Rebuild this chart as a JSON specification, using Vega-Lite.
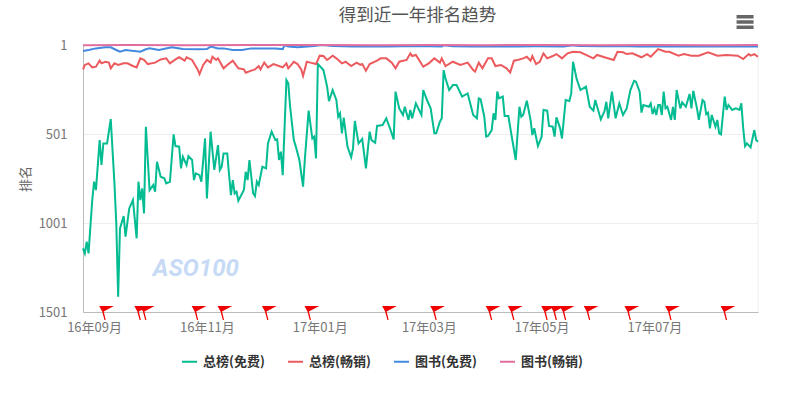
{"$schema":"https://vega.github.io/schema/vega-lite/v6.json","width":675,"height":267,"autosize":{"type":"none"},"padding":{"left":83,"top":45,"right":40,"bottom":88},"background":"white","view":{"stroke":null},"config":{"font":"Noto Sans CJK SC"},"title":{"text":"得到近一年排名趋势","fontSize":17.5,"fontWeight":"normal","color":"#555555","font":"Noto Sans CJK SC","anchor":"middle","dx":-3,"offset":-9},"layer":[{"data":{"values":[{"date":"2017-08-26"}]},"mark":{"type":"rule","stroke":"#eeeeee","strokeWidth":1},"encoding":{"x":{"field":"date","type":"temporal"}}},{"data":{"values":[{"date":"2016-08-26","series":"总榜(免费)","rank":1144},{"date":"2016-08-27","series":"总榜(免费)","rank":1172},{"date":"2016-08-28","series":"总榜(免费)","rank":1106},{"date":"2016-08-29","series":"总榜(免费)","rank":1172},{"date":"2016-08-31","series":"总榜(免费)","rank":872},{"date":"2016-09-01","series":"总榜(免费)","rank":769},{"date":"2016-09-02","series":"总榜(免费)","rank":816},{"date":"2016-09-04","series":"总榜(免费)","rank":535},{"date":"2016-09-05","series":"总榜(免费)","rank":675},{"date":"2016-09-06","series":"总榜(免费)","rank":554},{"date":"2016-09-08","series":"总榜(免费)","rank":554},{"date":"2016-09-10","series":"总榜(免费)","rank":417},{"date":"2016-09-12","series":"总榜(免费)","rank":778},{"date":"2016-09-13","series":"总榜(免费)","rank":1003},{"date":"2016-09-14","series":"总榜(免费)","rank":1415},{"date":"2016-09-15","series":"总榜(免费)","rank":1031},{"date":"2016-09-17","series":"总榜(免费)","rank":962},{"date":"2016-09-18","series":"总榜(免费)","rank":1078},{"date":"2016-09-20","series":"总榜(免费)","rank":919},{"date":"2016-09-22","series":"总榜(免费)","rank":872},{"date":"2016-09-24","series":"总榜(免费)","rank":1087},{"date":"2016-09-25","series":"总榜(免费)","rank":769},{"date":"2016-09-26","series":"总榜(免费)","rank":872},{"date":"2016-09-27","series":"总榜(免费)","rank":807},{"date":"2016-09-28","series":"总榜(免费)","rank":947},{"date":"2016-09-29","series":"总榜(免费)","rank":460},{"date":"2016-10-01","series":"总榜(免费)","rank":816},{"date":"2016-10-03","series":"总榜(免费)","rank":788},{"date":"2016-10-04","series":"总榜(免费)","rank":825},{"date":"2016-10-05","series":"总榜(免费)","rank":657},{"date":"2016-10-07","series":"总榜(免费)","rank":741},{"date":"2016-10-09","series":"总榜(免费)","rank":750},{"date":"2016-10-10","series":"总榜(免费)","rank":778},{"date":"2016-10-12","series":"总榜(免费)","rank":769},{"date":"2016-10-14","series":"总榜(免费)","rank":503},{"date":"2016-10-15","series":"总榜(免费)","rank":569},{"date":"2016-10-17","series":"总榜(免费)","rank":572},{"date":"2016-10-18","series":"总榜(免费)","rank":694},{"date":"2016-10-19","series":"总榜(免费)","rank":629},{"date":"2016-10-21","series":"总榜(免费)","rank":675},{"date":"2016-10-22","series":"总榜(免费)","rank":625},{"date":"2016-10-24","series":"总榜(免费)","rank":647},{"date":"2016-10-25","series":"总榜(免费)","rank":760},{"date":"2016-10-26","series":"总榜(免费)","rank":722},{"date":"2016-10-28","series":"总榜(免费)","rank":732},{"date":"2016-10-29","series":"总榜(免费)","rank":769},{"date":"2016-10-31","series":"总榜(免费)","rank":526},{"date":"2016-11-01","series":"总榜(免费)","rank":863},{"date":"2016-11-03","series":"总榜(免费)","rank":488},{"date":"2016-11-05","series":"总榜(免费)","rank":703},{"date":"2016-11-07","series":"总榜(免费)","rank":563},{"date":"2016-11-08","series":"总榜(免费)","rank":703},{"date":"2016-11-09","series":"总榜(免费)","rank":685},{"date":"2016-11-10","series":"总榜(免费)","rank":610},{"date":"2016-11-12","series":"总榜(免费)","rank":610},{"date":"2016-11-13","series":"总榜(免费)","rank":732},{"date":"2016-11-14","series":"总榜(免费)","rank":844},{"date":"2016-11-15","series":"总榜(免费)","rank":760},{"date":"2016-11-16","series":"总榜(免费)","rank":835},{"date":"2016-11-17","series":"总榜(免费)","rank":825},{"date":"2016-11-18","series":"总榜(免费)","rank":876},{"date":"2016-11-21","series":"总榜(免费)","rank":816},{"date":"2016-11-22","series":"总榜(免费)","rank":713},{"date":"2016-11-23","series":"总榜(免费)","rank":760},{"date":"2016-11-24","series":"总榜(免费)","rank":647},{"date":"2016-11-26","series":"总榜(免费)","rank":835},{"date":"2016-11-27","series":"总榜(免费)","rank":850},{"date":"2016-11-28","series":"总榜(免费)","rank":769},{"date":"2016-11-29","series":"总榜(免费)","rank":788},{"date":"2016-12-01","series":"总榜(免费)","rank":685},{"date":"2016-12-03","series":"总榜(免费)","rank":694},{"date":"2016-12-04","series":"总榜(免费)","rank":554},{"date":"2016-12-06","series":"总榜(免费)","rank":488},{"date":"2016-12-08","series":"总榜(免费)","rank":535},{"date":"2016-12-09","series":"总榜(免费)","rank":531},{"date":"2016-12-10","series":"总榜(免费)","rank":647},{"date":"2016-12-11","series":"总榜(免费)","rank":600},{"date":"2016-12-12","series":"总榜(免费)","rank":732},{"date":"2016-12-14","series":"总榜(免费)","rank":198},{"date":"2016-12-15","series":"总榜(免费)","rank":216},{"date":"2016-12-16","series":"总榜(免费)","rank":348},{"date":"2016-12-18","series":"总榜(免费)","rank":535},{"date":"2016-12-19","series":"总榜(免费)","rank":569},{"date":"2016-12-21","series":"总榜(免费)","rank":647},{"date":"2016-12-23","series":"总榜(免费)","rank":797},{"date":"2016-12-24","series":"总榜(免费)","rank":638},{"date":"2016-12-26","series":"总榜(免费)","rank":370},{"date":"2016-12-28","series":"总榜(免费)","rank":526},{"date":"2016-12-29","series":"总榜(免费)","rank":516},{"date":"2016-12-30","series":"总榜(免费)","rank":638},{"date":"2016-12-31","series":"总榜(免费)","rank":108},{"date":"2017-01-03","series":"总榜(免费)","rank":142},{"date":"2017-01-05","series":"总榜(免费)","rank":235},{"date":"2017-01-06","series":"总榜(免费)","rank":316},{"date":"2017-01-08","series":"总榜(免费)","rank":254},{"date":"2017-01-10","series":"总榜(免费)","rank":310},{"date":"2017-01-11","series":"总榜(免费)","rank":404},{"date":"2017-01-12","series":"总榜(免费)","rank":385},{"date":"2017-01-13","series":"总榜(免费)","rank":497},{"date":"2017-01-14","series":"总榜(免费)","rank":409},{"date":"2017-01-16","series":"总榜(免费)","rank":572},{"date":"2017-01-18","series":"总榜(免费)","rank":632},{"date":"2017-01-19","series":"总榜(免费)","rank":582},{"date":"2017-01-20","series":"总榜(免费)","rank":428},{"date":"2017-01-22","series":"总榜(免费)","rank":554},{"date":"2017-01-24","series":"总榜(免费)","rank":529},{"date":"2017-01-26","series":"总榜(免费)","rank":694},{"date":"2017-01-28","series":"总榜(免费)","rank":488},{"date":"2017-01-29","series":"总榜(免费)","rank":535},{"date":"2017-01-31","series":"总榜(免费)","rank":550},{"date":"2017-02-01","series":"总榜(免费)","rank":456},{"date":"2017-02-04","series":"总榜(免费)","rank":451},{"date":"2017-02-06","series":"总榜(免费)","rank":413},{"date":"2017-02-08","series":"总榜(免费)","rank":469},{"date":"2017-02-10","series":"总榜(免费)","rank":531},{"date":"2017-02-11","series":"总榜(免费)","rank":263},{"date":"2017-02-13","series":"总榜(免费)","rank":357},{"date":"2017-02-15","series":"总榜(免费)","rank":394},{"date":"2017-02-16","series":"总榜(免费)","rank":348},{"date":"2017-02-18","series":"总榜(免费)","rank":422},{"date":"2017-02-19","series":"总榜(免费)","rank":366},{"date":"2017-02-20","series":"总榜(免费)","rank":413},{"date":"2017-02-22","series":"总榜(免费)","rank":329},{"date":"2017-02-25","series":"总榜(免费)","rank":394},{"date":"2017-02-26","series":"总榜(免费)","rank":254},{"date":"2017-02-28","series":"总榜(免费)","rank":310},{"date":"2017-03-02","series":"总榜(免费)","rank":357},{"date":"2017-03-04","series":"总榜(免费)","rank":497},{"date":"2017-03-05","series":"总榜(免费)","rank":497},{"date":"2017-03-07","series":"总榜(免费)","rank":432},{"date":"2017-03-08","series":"总榜(免费)","rank":413},{"date":"2017-03-09","series":"总榜(免费)","rank":142},{"date":"2017-03-10","series":"总榜(免费)","rank":188},{"date":"2017-03-12","series":"总榜(免费)","rank":254},{"date":"2017-03-14","series":"总榜(免费)","rank":226},{"date":"2017-03-16","series":"总榜(免费)","rank":226},{"date":"2017-03-19","series":"总榜(免费)","rank":291},{"date":"2017-03-22","series":"总榜(免费)","rank":273},{"date":"2017-03-25","series":"总榜(免费)","rank":394},{"date":"2017-03-27","series":"总榜(免费)","rank":413},{"date":"2017-03-28","series":"总榜(免费)","rank":301},{"date":"2017-03-29","series":"总榜(免费)","rank":306},{"date":"2017-03-31","series":"总榜(免费)","rank":404},{"date":"2017-04-01","series":"总榜(免费)","rank":516},{"date":"2017-04-02","series":"总榜(免费)","rank":512},{"date":"2017-04-04","series":"总榜(免费)","rank":479},{"date":"2017-04-05","series":"总榜(免费)","rank":385},{"date":"2017-04-06","series":"总榜(免费)","rank":422},{"date":"2017-04-07","series":"总榜(免费)","rank":263},{"date":"2017-04-08","series":"总榜(免费)","rank":301},{"date":"2017-04-10","series":"总榜(免费)","rank":291},{"date":"2017-04-11","series":"总榜(免费)","rank":400},{"date":"2017-04-13","series":"总榜(免费)","rank":400},{"date":"2017-04-15","series":"总榜(免费)","rank":526},{"date":"2017-04-17","series":"总榜(免费)","rank":647},{"date":"2017-04-19","series":"总榜(免费)","rank":348},{"date":"2017-04-20","series":"总榜(免费)","rank":404},{"date":"2017-04-21","series":"总榜(免费)","rank":394},{"date":"2017-04-23","series":"总榜(免费)","rank":314},{"date":"2017-04-25","series":"总榜(免费)","rank":422},{"date":"2017-04-26","series":"总榜(免费)","rank":507},{"date":"2017-04-27","series":"总榜(免费)","rank":469},{"date":"2017-04-29","series":"总榜(免费)","rank":569},{"date":"2017-05-01","series":"总榜(免费)","rank":516},{"date":"2017-05-02","series":"总榜(免费)","rank":366},{"date":"2017-05-04","series":"总榜(免费)","rank":370},{"date":"2017-05-05","series":"总榜(免费)","rank":456},{"date":"2017-05-07","series":"总榜(免费)","rank":460},{"date":"2017-05-08","series":"总榜(免费)","rank":516},{"date":"2017-05-09","series":"总榜(免费)","rank":408},{"date":"2017-05-11","series":"总榜(免费)","rank":469},{"date":"2017-05-12","series":"总榜(免费)","rank":526},{"date":"2017-05-14","series":"总榜(免费)","rank":310},{"date":"2017-05-16","series":"总榜(免费)","rank":316},{"date":"2017-05-17","series":"总榜(免费)","rank":273},{"date":"2017-05-18","series":"总榜(免费)","rank":95},{"date":"2017-05-20","series":"总榜(免费)","rank":194},{"date":"2017-05-22","series":"总榜(免费)","rank":254},{"date":"2017-05-25","series":"总榜(免费)","rank":235},{"date":"2017-05-27","series":"总榜(免费)","rank":348},{"date":"2017-05-29","series":"总榜(免费)","rank":370},{"date":"2017-05-30","series":"总榜(免费)","rank":310},{"date":"2017-06-02","series":"总榜(免费)","rank":419},{"date":"2017-06-04","series":"总榜(免费)","rank":372},{"date":"2017-06-05","series":"总榜(免费)","rank":320},{"date":"2017-06-06","series":"总榜(免费)","rank":413},{"date":"2017-06-08","series":"总榜(免费)","rank":263},{"date":"2017-06-10","series":"总榜(免费)","rank":413},{"date":"2017-06-12","series":"总榜(免费)","rank":329},{"date":"2017-06-14","series":"总榜(免费)","rank":394},{"date":"2017-06-16","series":"总榜(免费)","rank":357},{"date":"2017-06-18","series":"总榜(免费)","rank":254},{"date":"2017-06-20","series":"总榜(免费)","rank":202},{"date":"2017-06-21","series":"总榜(免费)","rank":207},{"date":"2017-06-23","series":"总榜(免费)","rank":263},{"date":"2017-06-24","series":"总榜(免费)","rank":381},{"date":"2017-06-25","series":"总榜(免费)","rank":338},{"date":"2017-06-28","series":"总榜(免费)","rank":348},{"date":"2017-06-29","series":"总榜(免费)","rank":329},{"date":"2017-06-30","series":"总榜(免费)","rank":389},{"date":"2017-07-01","series":"总榜(免费)","rank":357},{"date":"2017-07-02","series":"总榜(免费)","rank":394},{"date":"2017-07-03","series":"总榜(免费)","rank":338},{"date":"2017-07-04","series":"总榜(免费)","rank":338},{"date":"2017-07-05","series":"总榜(免费)","rank":394},{"date":"2017-07-06","series":"总榜(免费)","rank":263},{"date":"2017-07-07","series":"总榜(免费)","rank":357},{"date":"2017-07-08","series":"总榜(免费)","rank":348},{"date":"2017-07-10","series":"总榜(免费)","rank":422},{"date":"2017-07-11","series":"总榜(免费)","rank":348},{"date":"2017-07-12","series":"总榜(免费)","rank":422},{"date":"2017-07-13","series":"总榜(免费)","rank":254},{"date":"2017-07-15","series":"总榜(免费)","rank":357},{"date":"2017-07-16","series":"总榜(免费)","rank":323},{"date":"2017-07-18","series":"总榜(免费)","rank":348},{"date":"2017-07-20","series":"总榜(免费)","rank":276},{"date":"2017-07-21","series":"总榜(免费)","rank":357},{"date":"2017-07-22","series":"总榜(免费)","rank":258},{"date":"2017-07-24","series":"总榜(免费)","rank":357},{"date":"2017-07-25","series":"总榜(免费)","rank":422},{"date":"2017-07-27","series":"总榜(免费)","rank":310},{"date":"2017-07-28","series":"总榜(免费)","rank":320},{"date":"2017-07-29","series":"总榜(免费)","rank":389},{"date":"2017-07-30","series":"总榜(免费)","rank":381},{"date":"2017-07-31","series":"总榜(免费)","rank":469},{"date":"2017-08-01","series":"总榜(免费)","rank":394},{"date":"2017-08-03","series":"总榜(免费)","rank":460},{"date":"2017-08-04","series":"总榜(免费)","rank":422},{"date":"2017-08-05","series":"总榜(免费)","rank":497},{"date":"2017-08-06","series":"总榜(免费)","rank":503},{"date":"2017-08-08","series":"总榜(免费)","rank":291},{"date":"2017-08-09","series":"总榜(免费)","rank":366},{"date":"2017-08-10","series":"总榜(免费)","rank":338},{"date":"2017-08-12","series":"总榜(免费)","rank":366},{"date":"2017-08-14","series":"总榜(免费)","rank":357},{"date":"2017-08-16","series":"总榜(免费)","rank":366},{"date":"2017-08-17","series":"总榜(免费)","rank":329},{"date":"2017-08-18","series":"总榜(免费)","rank":469},{"date":"2017-08-19","series":"总榜(免费)","rank":569},{"date":"2017-08-20","series":"总榜(免费)","rank":554},{"date":"2017-08-22","series":"总榜(免费)","rank":576},{"date":"2017-08-24","series":"总榜(免费)","rank":479},{"date":"2017-08-25","series":"总榜(免费)","rank":535},{"date":"2017-08-26","series":"总榜(免费)","rank":544},{"date":"2016-08-26","series":"总榜(畅销)","rank":138},{"date":"2016-08-27","series":"总榜(畅销)","rank":113},{"date":"2016-08-29","series":"总榜(畅销)","rank":104},{"date":"2016-08-31","series":"总榜(畅销)","rank":127},{"date":"2016-09-02","series":"总榜(畅销)","rank":123},{"date":"2016-09-04","series":"总榜(畅销)","rank":89},{"date":"2016-09-05","series":"总榜(畅销)","rank":104},{"date":"2016-09-07","series":"总榜(畅销)","rank":95},{"date":"2016-09-09","series":"总榜(畅销)","rank":100},{"date":"2016-09-10","series":"总榜(畅销)","rank":132},{"date":"2016-09-12","series":"总榜(畅销)","rank":104},{"date":"2016-09-14","series":"总榜(畅销)","rank":113},{"date":"2016-09-17","series":"总榜(畅销)","rank":104},{"date":"2016-09-19","series":"总榜(畅销)","rank":104},{"date":"2016-09-22","series":"总榜(畅销)","rank":119},{"date":"2016-09-24","series":"总榜(畅销)","rank":127},{"date":"2016-09-26","series":"总榜(畅销)","rank":76},{"date":"2016-09-28","series":"总榜(畅销)","rank":85},{"date":"2016-09-30","series":"总榜(畅销)","rank":108},{"date":"2016-10-04","series":"总榜(畅销)","rank":100},{"date":"2016-10-07","series":"总榜(畅销)","rank":82},{"date":"2016-10-10","series":"总榜(畅销)","rank":76},{"date":"2016-10-12","series":"总榜(畅销)","rank":104},{"date":"2016-10-15","series":"总榜(畅销)","rank":82},{"date":"2016-10-17","series":"总榜(畅销)","rank":70},{"date":"2016-10-20","series":"总榜(畅销)","rank":89},{"date":"2016-10-21","series":"总榜(畅销)","rank":70},{"date":"2016-10-24","series":"总榜(畅销)","rank":85},{"date":"2016-10-25","series":"总榜(畅销)","rank":104},{"date":"2016-10-27","series":"总榜(畅销)","rank":138},{"date":"2016-10-28","series":"总榜(畅销)","rank":164},{"date":"2016-10-30","series":"总榜(畅销)","rank":113},{"date":"2016-11-01","series":"总榜(畅销)","rank":85},{"date":"2016-11-03","series":"总榜(畅销)","rank":100},{"date":"2016-11-04","series":"总榜(畅销)","rank":67},{"date":"2016-11-06","series":"总榜(畅销)","rank":85},{"date":"2016-11-07","series":"总榜(畅销)","rank":76},{"date":"2016-11-08","series":"总榜(畅销)","rank":95},{"date":"2016-11-10","series":"总榜(畅销)","rank":132},{"date":"2016-11-12","series":"总榜(畅销)","rank":113},{"date":"2016-11-15","series":"总榜(畅销)","rank":89},{"date":"2016-11-18","series":"总榜(畅销)","rank":132},{"date":"2016-11-21","series":"总榜(畅销)","rank":138},{"date":"2016-11-22","series":"总榜(畅销)","rank":157},{"date":"2016-11-25","series":"总榜(畅销)","rank":145},{"date":"2016-11-27","series":"总榜(畅销)","rank":138},{"date":"2016-11-29","series":"总榜(畅销)","rank":119},{"date":"2016-11-30","series":"总榜(畅销)","rank":138},{"date":"2016-12-02","series":"总榜(畅销)","rank":100},{"date":"2016-12-04","series":"总榜(畅销)","rank":127},{"date":"2016-12-07","series":"总榜(畅销)","rank":108},{"date":"2016-12-10","series":"总榜(畅销)","rank":119},{"date":"2016-12-12","series":"总榜(畅销)","rank":127},{"date":"2016-12-14","series":"总榜(畅销)","rank":104},{"date":"2016-12-15","series":"总榜(畅销)","rank":132},{"date":"2016-12-18","series":"总榜(畅销)","rank":95},{"date":"2016-12-20","series":"总榜(畅销)","rank":108},{"date":"2016-12-22","series":"总榜(畅销)","rank":138},{"date":"2016-12-23","series":"总榜(畅销)","rank":175},{"date":"2016-12-25","series":"总榜(畅销)","rank":95},{"date":"2016-12-27","series":"总榜(畅销)","rank":100},{"date":"2016-12-30","series":"总榜(畅销)","rank":108},{"date":"2017-01-01","series":"总榜(畅销)","rank":61},{"date":"2017-01-03","series":"总榜(畅销)","rank":63},{"date":"2017-01-05","series":"总榜(畅销)","rank":85},{"date":"2017-01-08","series":"总榜(畅销)","rank":61},{"date":"2017-01-10","series":"总榜(畅销)","rank":76},{"date":"2017-01-13","series":"总榜(畅销)","rank":104},{"date":"2017-01-15","series":"总榜(畅销)","rank":95},{"date":"2017-01-18","series":"总榜(畅销)","rank":119},{"date":"2017-01-19","series":"总榜(畅销)","rank":113},{"date":"2017-01-21","series":"总榜(畅销)","rank":100},{"date":"2017-01-23","series":"总榜(畅销)","rank":113},{"date":"2017-01-24","series":"总榜(畅销)","rank":108},{"date":"2017-01-26","series":"总榜(畅销)","rank":145},{"date":"2017-01-28","series":"总榜(畅销)","rank":108},{"date":"2017-02-01","series":"总榜(畅销)","rank":89},{"date":"2017-02-03","series":"总榜(畅销)","rank":76},{"date":"2017-02-06","series":"总榜(畅销)","rank":76},{"date":"2017-02-09","series":"总榜(畅销)","rank":100},{"date":"2017-02-11","series":"总榜(畅销)","rank":132},{"date":"2017-02-13","series":"总榜(畅销)","rank":95},{"date":"2017-02-17","series":"总榜(畅销)","rank":85},{"date":"2017-02-19","series":"总榜(畅销)","rank":48},{"date":"2017-02-20","series":"总榜(畅销)","rank":63},{"date":"2017-02-22","series":"总榜(畅销)","rank":57},{"date":"2017-02-26","series":"总榜(畅销)","rank":123},{"date":"2017-03-01","series":"总榜(畅销)","rank":104},{"date":"2017-03-04","series":"总榜(畅销)","rank":76},{"date":"2017-03-07","series":"总榜(畅销)","rank":100},{"date":"2017-03-08","series":"总榜(畅销)","rank":76},{"date":"2017-03-10","series":"总榜(畅销)","rank":119},{"date":"2017-03-14","series":"总榜(畅销)","rank":95},{"date":"2017-03-18","series":"总榜(畅销)","rank":113},{"date":"2017-03-22","series":"总榜(畅销)","rank":100},{"date":"2017-03-25","series":"总榜(畅销)","rank":142},{"date":"2017-03-26","series":"总榜(畅销)","rank":151},{"date":"2017-03-28","series":"总榜(畅销)","rank":100},{"date":"2017-03-30","series":"总榜(畅销)","rank":132},{"date":"2017-04-02","series":"总榜(畅销)","rank":76},{"date":"2017-04-04","series":"总榜(畅销)","rank":76},{"date":"2017-04-06","series":"总榜(畅销)","rank":119},{"date":"2017-04-09","series":"总榜(畅销)","rank":113},{"date":"2017-04-12","series":"总榜(畅销)","rank":132},{"date":"2017-04-14","series":"总榜(畅销)","rank":155},{"date":"2017-04-16","series":"总榜(畅销)","rank":89},{"date":"2017-04-18","series":"总榜(畅销)","rank":85},{"date":"2017-04-21","series":"总榜(畅销)","rank":76},{"date":"2017-04-23","series":"总榜(畅销)","rank":67},{"date":"2017-04-25","series":"总榜(畅销)","rank":89},{"date":"2017-04-26","series":"总榜(畅销)","rank":63},{"date":"2017-04-28","series":"总榜(畅销)","rank":108},{"date":"2017-04-30","series":"总榜(畅销)","rank":95},{"date":"2017-05-02","series":"总榜(畅销)","rank":48},{"date":"2017-05-04","series":"总榜(畅销)","rank":76},{"date":"2017-05-07","series":"总榜(畅销)","rank":63},{"date":"2017-05-09","series":"总榜(畅销)","rank":52},{"date":"2017-05-12","series":"总榜(畅销)","rank":76},{"date":"2017-05-15","series":"总榜(畅销)","rank":48},{"date":"2017-05-18","series":"总榜(畅销)","rank":39},{"date":"2017-05-22","series":"总榜(畅销)","rank":42},{"date":"2017-05-25","series":"总榜(畅销)","rank":57},{"date":"2017-05-29","series":"总榜(畅销)","rank":76},{"date":"2017-05-31","series":"总榜(畅销)","rank":57},{"date":"2017-06-04","series":"总榜(畅销)","rank":70},{"date":"2017-06-09","series":"总榜(畅销)","rank":85},{"date":"2017-06-11","series":"总榜(畅销)","rank":39},{"date":"2017-06-14","series":"总榜(畅销)","rank":42},{"date":"2017-06-16","series":"总榜(畅销)","rank":52},{"date":"2017-06-19","series":"总榜(畅销)","rank":48},{"date":"2017-06-24","series":"总榜(畅销)","rank":70},{"date":"2017-06-27","series":"总榜(畅销)","rank":52},{"date":"2017-06-29","series":"总榜(畅销)","rank":67},{"date":"2017-07-03","series":"总榜(畅销)","rank":24},{"date":"2017-07-07","series":"总榜(畅销)","rank":39},{"date":"2017-07-09","series":"总榜(畅销)","rank":39},{"date":"2017-07-14","series":"总榜(畅销)","rank":61},{"date":"2017-07-17","series":"总榜(畅销)","rank":52},{"date":"2017-07-21","series":"总榜(畅销)","rank":61},{"date":"2017-07-25","series":"总榜(畅销)","rank":61},{"date":"2017-07-30","series":"总榜(畅销)","rank":42},{"date":"2017-08-04","series":"总榜(畅销)","rank":61},{"date":"2017-08-09","series":"总榜(畅销)","rank":57},{"date":"2017-08-15","series":"总榜(畅销)","rank":61},{"date":"2017-08-18","series":"总榜(畅销)","rank":80},{"date":"2017-08-21","series":"总榜(畅销)","rank":52},{"date":"2017-08-22","series":"总榜(畅销)","rank":61},{"date":"2017-08-24","series":"总榜(畅销)","rank":52},{"date":"2017-08-26","series":"总榜(畅销)","rank":67},{"date":"2016-08-26","series":"图书(免费)","rank":35},{"date":"2016-08-29","series":"图书(免费)","rank":29},{"date":"2016-09-02","series":"图书(免费)","rank":20},{"date":"2016-09-07","series":"图书(免费)","rank":14},{"date":"2016-09-10","series":"图书(免费)","rank":14},{"date":"2016-09-13","series":"图书(免费)","rank":29},{"date":"2016-09-15","series":"图书(免费)","rank":39},{"date":"2016-09-18","series":"图书(免费)","rank":29},{"date":"2016-09-26","series":"图书(免费)","rank":39},{"date":"2016-09-29","series":"图书(免费)","rank":25},{"date":"2016-10-01","series":"图书(免费)","rank":20},{"date":"2016-10-06","series":"图书(免费)","rank":29},{"date":"2016-10-13","series":"图书(免费)","rank":14},{"date":"2016-10-19","series":"图书(免费)","rank":24},{"date":"2016-10-28","series":"图书(免费)","rank":25},{"date":"2016-11-01","series":"图书(免费)","rank":24},{"date":"2016-11-03","series":"图书(免费)","rank":10},{"date":"2016-11-07","series":"图书(免费)","rank":20},{"date":"2016-11-10","series":"图书(免费)","rank":20},{"date":"2016-11-15","series":"图书(免费)","rank":29},{"date":"2016-11-20","series":"图书(免费)","rank":29},{"date":"2016-11-25","series":"图书(免费)","rank":20},{"date":"2016-11-30","series":"图书(免费)","rank":20},{"date":"2016-12-08","series":"图书(免费)","rank":20},{"date":"2016-12-12","series":"图书(免费)","rank":24},{"date":"2016-12-13","series":"图书(免费)","rank":2},{"date":"2016-12-15","series":"图书(免费)","rank":10},{"date":"2016-12-20","series":"图书(免费)","rank":14},{"date":"2016-12-29","series":"图书(免费)","rank":7},{"date":"2017-01-01","series":"图书(免费)","rank":2},{"date":"2017-01-04","series":"图书(免费)","rank":2},{"date":"2017-01-08","series":"图书(免费)","rank":7},{"date":"2017-01-19","series":"图书(免费)","rank":10},{"date":"2017-01-28","series":"图书(免费)","rank":10},{"date":"2017-02-07","series":"图书(免费)","rank":9},{"date":"2017-02-22","series":"图书(免费)","rank":7},{"date":"2017-03-08","series":"图书(免费)","rank":10},{"date":"2017-03-09","series":"图书(免费)","rank":2},{"date":"2017-03-14","series":"图书(免费)","rank":8},{"date":"2017-03-24","series":"图书(免费)","rank":9},{"date":"2017-04-01","series":"图书(免费)","rank":8},{"date":"2017-04-08","series":"图书(免费)","rank":10},{"date":"2017-04-18","series":"图书(免费)","rank":9},{"date":"2017-04-28","series":"图书(免费)","rank":8},{"date":"2017-05-13","series":"图书(免费)","rank":9},{"date":"2017-05-18","series":"图书(免费)","rank":2},{"date":"2017-05-21","series":"图书(免费)","rank":7},{"date":"2017-06-02","series":"图书(免费)","rank":8},{"date":"2017-06-12","series":"图书(免费)","rank":7},{"date":"2017-06-22","series":"图书(免费)","rank":9},{"date":"2017-07-12","series":"图书(免费)","rank":10},{"date":"2017-08-01","series":"图书(免费)","rank":10},{"date":"2017-08-16","series":"图书(免费)","rank":9},{"date":"2017-08-26","series":"图书(免费)","rank":10},{"date":"2016-08-26","series":"图书(畅销)","rank":2},{"date":"2016-09-20","series":"图书(畅销)","rank":1},{"date":"2016-10-20","series":"图书(畅销)","rank":2},{"date":"2016-11-25","series":"图书(畅销)","rank":1},{"date":"2016-12-30","series":"图书(畅销)","rank":1},{"date":"2017-02-01","series":"图书(畅销)","rank":2},{"date":"2017-03-01","series":"图书(畅销)","rank":1},{"date":"2017-04-01","series":"图书(畅销)","rank":2},{"date":"2017-05-01","series":"图书(畅销)","rank":1},{"date":"2017-06-01","series":"图书(畅销)","rank":2},{"date":"2017-07-01","series":"图书(畅销)","rank":1},{"date":"2017-08-01","series":"图书(畅销)","rank":2},{"date":"2017-08-26","series":"图书(畅销)","rank":1}]},"mark":{"type":"line","strokeWidth":2,"clip":false},"encoding":{"x":{"field":"date","type":"temporal","title":null,"scale":{"type":"utc","domain":[{"year":2016,"month":8,"date":26,"utc":true},{"year":2017,"month":8,"date":26,"utc":true}]},"axis":{"values":[{"year":2016,"month":9,"date":1,"utc":true},{"year":2016,"month":11,"date":1,"utc":true},{"year":2017,"month":1,"date":1,"utc":true},{"year":2017,"month":3,"date":1,"utc":true},{"year":2017,"month":5,"date":1,"utc":true},{"year":2017,"month":7,"date":1,"utc":true}],"format":"%y年%m月","grid":false,"ticks":false,"domainColor":"#bbbbbb","labelColor":"#777777","labelFontSize":13,"labelPadding":9,"labelFont":"Noto Sans CJK SC","labelOverlap":false,"labelFlush":false}},"y":{"field":"rank","type":"quantitative","title":"排名","scale":{"domain":[1,1501],"reverse":true,"nice":false,"zero":false},"axis":{"values":[1,501,1001,1501],"format":"d","grid":true,"gridColor":"#eeeeee","ticks":false,"domainColor":"#bbbbbb","labelColor":"#777777","labelFontSize":13,"labelPadding":16,"labelFont":"Noto Sans CJK SC","titleFont":"Noto Sans CJK SC","titleFontSize":13,"titleFontWeight":"normal","titleColor":"#666666","titlePadding":6}},"color":{"field":"series","type":"nominal","scale":{"domain":["总榜(免费)","总榜(畅销)","图书(免费)","图书(畅销)"],"range":["#03bc92","#ec5a5e","#4289e0","#e06e9f"]},"legend":{"title":null,"orient":"none","legendX":98,"legendY":308,"direction":"horizontal","columns":4,"symbolType":"stroke","symbolSize":225,"symbolStrokeWidth":2,"labelFontSize":13,"labelFontWeight":"bold","labelColor":"#333333","labelFont":"Noto Sans CJK SC","columnPadding":19,"labelOffset":5}}}},{"data":{"values":[{"date":"2016-09-07"},{"date":"2016-09-26"},{"date":"2016-09-29"},{"date":"2016-10-27"},{"date":"2016-11-10"},{"date":"2016-12-04"},{"date":"2016-12-27"},{"date":"2017-02-07"},{"date":"2017-03-05"},{"date":"2017-04-04"},{"date":"2017-04-16"},{"date":"2017-05-04"},{"date":"2017-05-09"},{"date":"2017-05-14"},{"date":"2017-05-27"},{"date":"2017-06-18"},{"date":"2017-07-10"},{"date":"2017-08-09"}]},"mark":{"type":"point","filled":true,"fill":"#f00000","opacity":1,"size":400,"strokeWidth":0,"clip":false,"shape":"M-0.6 -0.6 L0.87 -0.6 L-0.15 -0.05 L0.05 0.8 L-0.07 0.8 L-0.3 -0.05 Z"},"encoding":{"x":{"field":"date","type":"temporal"},"y":{"datum":1501}}},{"data":{"values":[{"date":"2016-10-26","label":"ASO100"}]},"mark":{"type":"text","font":"Roboto","fontStyle":"italic","fontWeight":"bold","fontSize":24,"fill":"#c6daf6","clip":false},"encoding":{"x":{"field":"date","type":"temporal"},"y":{"datum":1260},"text":{"field":"label"}}},{"data":{"values":[{"date":"2017-08-19"}]},"mark":{"type":"point","filled":true,"fill":"#666666","opacity":1,"size":400,"strokeWidth":0,"clip":false,"shape":"M-0.85 -0.7 H0.85 V-0.35 H-0.85 Z M-0.85 -0.17 H0.85 V0.17 H-0.85 Z M-0.85 0.35 H0.85 V0.7 H-0.85 Z"},"encoding":{"x":{"field":"date","type":"temporal"},"y":{"datum":-128}}}]}
